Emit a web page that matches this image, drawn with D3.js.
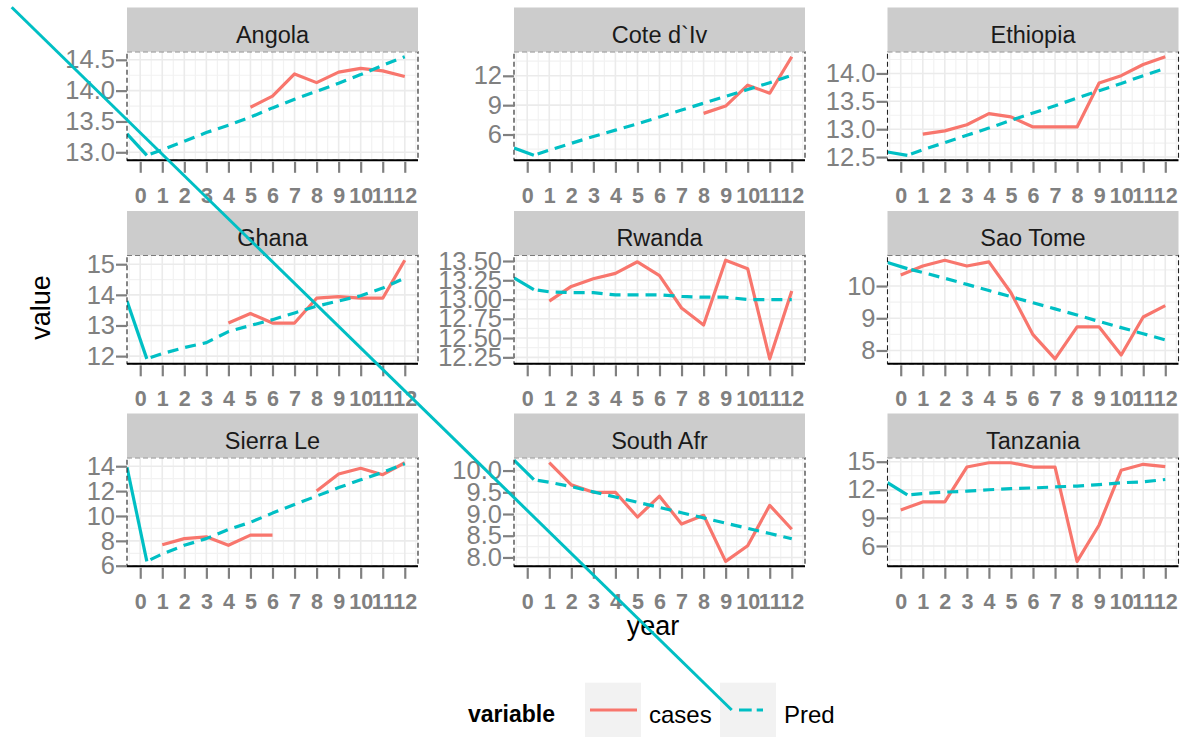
<!DOCTYPE html>
<html>
<head>
<meta charset="utf-8">
<script src="https://cdn.jsdelivr.net/npm/d3@7"></script>
<style>
  body { margin: 0; background: #fff; }
  svg { display: block; font-family: "Liberation Sans", Arial, sans-serif; }
</style>
</head>
<body>
<div id="chart"></div>
<script>
// facets, in the order ggplot wraps them
const countries = ["Angola", "Cote d`Iv", "Ethiopia", "Ghana", "Rwanda", "Sao Tome", "Sierra Le", "South Afr", "Tanzania"];
const years = [0, 1, 2, 3, 4, 5, 6, 7, 8, 9, 10, 11, 12];
// the Pred series starts a little to the right of year 0
const predYears = [0.3, 1, 2, 3, 4, 5, 6, 7, 8, 9, 10, 11, 12];

// cases (null = no observation)
const casesAngola   = [null, null, null, null, null, 13.73, 13.91, 14.27, 14.13, 14.30, 14.36, 14.32, 14.23];
const casesCote     = [null, null, null, null, null, null, null, null, 8.16, 8.91, 11.04, 10.22, 13.95];
const casesEthiopia = [null, 12.91, 12.97, 13.08, 13.28, 13.22, 13.04, 13.04, 13.04, 13.83, 13.96, 14.16, 14.30];
const casesGhana    = [null, null, null, null, 13.08, 13.39, 13.08, 13.08, 13.89, 13.94, 13.89, 13.89, 15.13];
const casesRwanda   = [null, 12.98, 13.17, 13.27, 13.34, 13.49, 13.31, 12.89, 12.67, 13.51, 13.40, 12.23, 13.11];
const casesSaoTome  = [10.34, 10.62, 10.80, 10.62, 10.75, 9.79, 8.49, 7.74, 8.73, 8.73, 7.86, 9.04, 9.39];
const casesSierra   = [null, 7.69, 8.18, 8.32, 7.64, 8.46, 8.46, null, 12.01, 13.38, 13.84, 13.32, 14.28];
const casesSouthAfr = [null, 10.18, 9.67, 9.50, 9.50, 8.93, 9.41, 8.77, 8.97, 7.91, 8.27, 9.20, 8.65];
const casesTanzania = [9.85, 10.70, 10.70, 14.43, 14.89, 14.89, 14.43, 14.43, 4.35, 8.24, 14.08, 14.72, 14.47];

// Pred
const predAngola   = [12.95, 13.04, 13.18, 13.32, 13.44, 13.57, 13.72, 13.86, 13.99, 14.12, 14.26, 14.41, 14.55];
const predCote     = [3.87, 4.40, 5.10, 5.80, 6.45, 7.10, 7.80, 8.50, 9.20, 9.90, 10.60, 11.30, 12.05];
const predEthiopia = [12.53, 12.63, 12.76, 12.89, 13.02, 13.16, 13.29, 13.42, 13.56, 13.69, 13.82, 13.96, 14.09];
const predGhana    = [11.91, 12.08, 12.28, 12.44, 12.80, 13.00, 13.19, 13.41, 13.63, 13.80, 13.97, 14.22, 14.55];
const predRwanda   = [13.13, 13.10, 13.09, 13.09, 13.06, 13.06, 13.06, 13.04, 13.03, 13.03, 13.00, 13.00, 13.00];
const predSaoTome  = [10.54, 10.42, 10.24, 10.05, 9.86, 9.67, 9.48, 9.29, 9.10, 8.90, 8.71, 8.52, 8.33];
const predSierra   = [6.35, 6.95, 7.64, 8.18, 8.92, 9.49, 10.23, 10.92, 11.60, 12.28, 12.91, 13.51, 14.20];
const predSouthAfr = [9.79, 9.73, 9.63, 9.51, 9.39, 9.27, 9.15, 9.03, 8.91, 8.79, 8.67, 8.55, 8.43];
const predTanzania = [11.45, 11.60, 11.75, 11.85, 12.00, 12.12, 12.20, 12.30, 12.40, 12.55, 12.75, 12.85, 13.10];

// solid teal stub entering each panel from the left edge (value at the edge)
const leadIn = [13.30, 4.62, 12.59, 13.80, 13.28, 10.73, 13.92, 10.24, 12.76];

// y tick labels per facet
const yTicksAngola   = ["13.0", "13.5", "14.0", "14.5"];
const yTicksCote     = ["6", "9", "12"];
const yTicksEthiopia = ["12.5", "13.0", "13.5", "14.0"];
const yTicksGhana    = ["12", "13", "14", "15"];
const yTicksRwanda   = ["12.25", "12.50", "12.75", "13.00", "13.25", "13.50"];
const yTicksSaoTome  = ["8", "9", "10"];
const yTicksSierra   = ["6", "8", "10", "12", "14"];
const yTicksSouthAfr = ["8.0", "8.5", "9.0", "9.5", "10.0"];
const yTicksTanzania = ["6", "9", "12", "15"];

const cases = [casesAngola, casesCote, casesEthiopia, casesGhana, casesRwanda, casesSaoTome, casesSierra, casesSouthAfr, casesTanzania];
const preds = [predAngola, predCote, predEthiopia, predGhana, predRwanda, predSaoTome, predSierra, predSouthAfr, predTanzania];
const yTicks = [yTicksAngola, yTicksCote, yTicksEthiopia, yTicksGhana, yTicksRwanda, yTicksSaoTome, yTicksSierra, yTicksSouthAfr, yTicksTanzania];

const width = 1186, height = 737;
const red = "#F8766D", teal = "#00BFC4";
const colX = [127, 514, 887.5];
const rowY = [7.5, 211, 413.5];
const panelW = 291, stripH = 44.3, panelH = 108.5;
const dash = "11,7";
const font = "Liberation Sans, Arial, sans-serif";

const svg = d3.select("#chart").append("svg").attr("width", width).attr("height", height);

countries.forEach((name, i) => {
  const g = svg.append("g")
    .attr("transform", `translate(${colX[i % 3]},${rowY[Math.floor(i / 3)]})`);

  const x = d3.scaleLinear().domain([-0.6, 12.6]).range([0, panelW]);
  const vals = cases[i].filter(d => d != null).concat(preds[i]);
  const [lo, hi] = d3.extent(vals);
  const pad = (hi - lo) * 0.05;
  const y = d3.scaleLinear().domain([lo - pad, hi + pad]).range([stripH + panelH, stripH]);

  const tickNums = yTicks[i].map(Number);
  const step = tickNums[1] - tickNums[0];
  const minorY = d3.range(tickNums[0] - step / 2, tickNums[tickNums.length - 1] + step, step)
    .filter(v => v > y.domain()[0] && v < y.domain()[1]);
  const minorX = d3.range(-0.5, 12.6, 1);

  // panel background + grid
  g.append("rect").attr("x", 0).attr("y", stripH).attr("width", panelW).attr("height", panelH).attr("fill", "#fff");
  const grid = g.append("g").attr("stroke-width", 1.2);
  grid.selectAll(".mx").data(minorX).join("line")
    .attr("x1", d => x(d)).attr("x2", d => x(d)).attr("y1", stripH).attr("y2", stripH + panelH)
    .attr("stroke", "#f2f2f2");
  grid.selectAll(".my").data(minorY).join("line")
    .attr("x1", 0).attr("x2", panelW).attr("y1", d => y(d)).attr("y2", d => y(d))
    .attr("stroke", "#f2f2f2");
  grid.selectAll(".gx").data(years).join("line")
    .attr("x1", d => x(d)).attr("x2", d => x(d)).attr("y1", stripH).attr("y2", stripH + panelH)
    .attr("stroke", "#ebebeb").attr("stroke-width", 1.6);
  grid.selectAll(".gy").data(tickNums).join("line")
    .attr("x1", 0).attr("x2", panelW).attr("y1", d => y(d)).attr("y2", d => y(d))
    .attr("stroke", "#ebebeb").attr("stroke-width", 1.6);

  // lines, clipped to the panel
  const clipId = "clip" + i;
  g.append("clipPath").attr("id", clipId).append("rect")
    .attr("x", 0).attr("y", stripH).attr("width", panelW).attr("height", panelH);
  const lines = g.append("g").attr("clip-path", `url(#${clipId})`)
    .attr("fill", "none").attr("stroke-width", 3.2).attr("stroke-linejoin", "round");

  const caseLine = d3.line().defined(d => d != null).x((d, j) => x(years[j])).y(d => y(d));
  lines.append("path").attr("d", caseLine(cases[i])).attr("stroke", red);

  const predLine = d3.line().x((d, j) => x(predYears[j])).y(d => y(d));
  lines.append("path").attr("d", predLine(preds[i])).attr("stroke", teal)
    .attr("stroke-dasharray", dash).attr("stroke-dashoffset", 14);

  const stub = d3.line().x(d => x(d[0])).y(d => y(d[1]));
  lines.append("path").attr("d", stub([[x.domain()[0], leadIn[i]], [predYears[0], preds[i][0]]]))
    .attr("stroke", teal);

  // border: dashed frame with a solid bottom line
  g.append("rect").attr("x", 0).attr("y", stripH).attr("width", panelW).attr("height", panelH)
    .attr("fill", "none").attr("stroke", "#222").attr("stroke-width", 1.1).attr("stroke-dasharray", "5,3");
  g.append("line").attr("x1", 0).attr("x2", panelW).attr("y1", stripH + panelH).attr("y2", stripH + panelH)
    .attr("stroke", "#000").attr("stroke-width", 2);

  // axes
  const xAxis = g.append("g").attr("transform", `translate(0,${stripH + panelH})`)
    .call(d3.axisBottom(x).tickValues(years).tickSize(11).tickPadding(16));
  xAxis.select(".domain").remove();
  xAxis.selectAll("line").attr("stroke", "#808080").attr("stroke-width", 2.2).attr("y1", 1.5).attr("y2", 12.5);
  xAxis.selectAll("text").attr("fill", "#808080").attr("font-size", 21.5).attr("font-weight", "bold")
    .attr("font-family", font);

  const yAxis = g.append("g")
    .call(d3.axisLeft(y).tickValues(tickNums).tickFormat((d, j) => yTicks[i][j]).tickSize(11).tickPadding(1));
  yAxis.select(".domain").remove();
  yAxis.selectAll("line").attr("stroke", "#808080").attr("stroke-width", 2.2);
  yAxis.selectAll("text").attr("fill", "#808080").attr("font-size", 25.5)
    .attr("font-family", font);

  // strip
  g.append("rect").attr("x", 0).attr("y", 0).attr("width", panelW).attr("height", stripH).attr("fill", "#cccccc");
  g.append("text").attr("x", panelW / 2).attr("y", 35).attr("text-anchor", "middle")
    .attr("font-size", 23.5).attr("fill", "#1a1a1a").text(name);
});

// axis titles
svg.append("text").attr("transform", "translate(50,307.5) rotate(-90)").attr("text-anchor", "middle")
  .attr("font-size", 27).attr("fill", "#000").text("value");
svg.append("text").attr("x", 653).attr("y", 635).attr("text-anchor", "middle")
  .attr("font-size", 27).attr("fill", "#000").text("year");

// legend
const legY = 710;
const legend = svg.append("g");
legend.append("text").attr("x", 468).attr("y", 722).attr("font-size", 23).attr("font-weight", "bold").text("variable");
const keys = [{ label: "cases", color: red, x: 585 }, { label: "Pred", color: teal, x: 720 }];
keys.forEach(k => {
  legend.append("rect").attr("x", k.x).attr("y", legY - 27.3).attr("width", 56).attr("height", 54.6).attr("fill", "#f2f2f2");
  legend.append("text").attr("x", k.x + 64).attr("y", 722.5).attr("font-size", 24).text(k.label);
});
legend.append("line").attr("x1", 590).attr("x2", 637).attr("y1", legY).attr("y2", legY)
  .attr("stroke", red).attr("stroke-width", 3.2);
legend.append("line").attr("x1", 739).attr("x2", 763).attr("y1", legY).attr("y2", legY)
  .attr("stroke", teal).attr("stroke-width", 3.2).attr("stroke-dasharray", "12.7,5");

// stray teal line from the top-left corner down to the Pred key (drawn on top of everything)
svg.append("line").attr("x1", 11.7).attr("y1", 7.3).attr("x2", keys[1].x + 11.7).attr("y2", legY)
  .attr("stroke", teal).attr("stroke-width", 3);
</script>
</body>
</html>
